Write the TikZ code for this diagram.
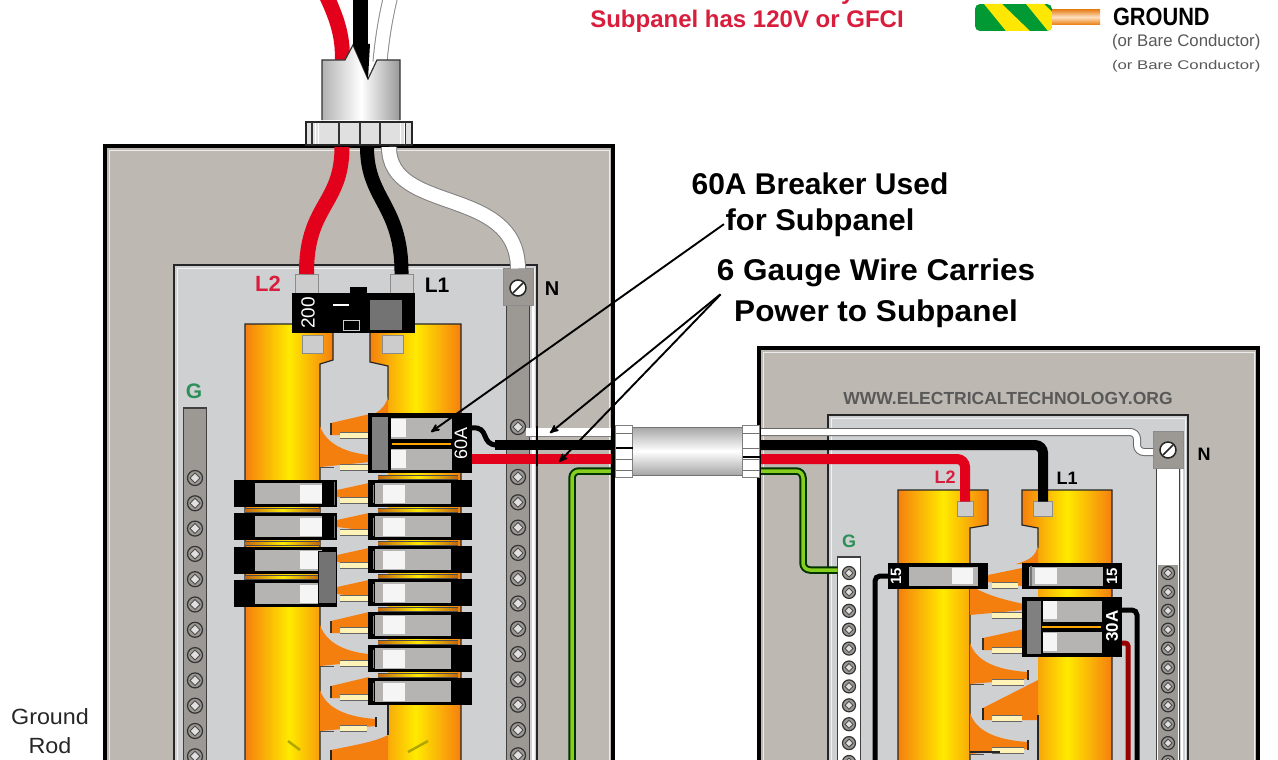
\documentclass[tikz,border=0pt]{standalone}
\usepackage{fontspec}
\setmainfont{Liberation Sans}
\usetikzlibrary{positioning}
\usetikzlibrary{arrows,shapes.geometric,calc}
\definecolor{boxgrey}{HTML}{BDB9B2}
\definecolor{panelgrey}{HTML}{CFD0D2}
\definecolor{barorange}{HTML}{F57F0E}
\definecolor{baryellow}{HTML}{FFEA00}
\definecolor{pincream}{HTML}{FFF3B8}
\definecolor{facegrey}{HTML}{B5B4B2}
\definecolor{bargrey}{HTML}{9C9894}
\definecolor{wirered}{HTML}{E2001A}
\definecolor{labred}{HTML}{D81E3C}
\definecolor{labgreen}{HTML}{2C8F58}
\definecolor{lime}{HTML}{86CF1E}
\tikzset{
    %Define standard arrow tip
    >=stealth',
    % Define pointer style
    pointer/.style={
           ->,
           line width=1.9pt,
           black,
           shorten <=2pt,}
}
\newcommand{\fs}[1]{\fontsize{#1}{#1}\selectfont}
% one breaker on the left / right row of the main panel
\newcommand{\brkl}[2]{
\node[brkbody, minimum width=103pt] (#1) at (285.5,#2) {};
\node[brkface, minimum width=67pt]  (#1f) at (288.5,#2) {};
\node[brktog]  (#1t) at (311,#2) {};
}
\newcommand{\brkr}[2]{
\node[brkbody, minimum width=104pt] (#1) at (420,#2) {};
\node[brkface, minimum width=76pt]  (#1f) at (413,#2) {};
\node[brktog]  (#1t) at (394,#2) {};
}
% bus fingers: tip x, base x, y
\newcommand{\wdg}[3]{
\fill[barorange] (#1,#3-3) -- (#2,#3-10) -- (#2,#3+8) -- (#1,#3+4) -- cycle;
}
\newcommand{\pinbar}[3]{
\draw[pincream, line width=5pt] (#1,#3) -- (#2,#3);
\draw[black!60, line width=.6pt] (#1,#3-3) -- (#2,#3-3) (#1,#3+3) -- (#2,#3+3);
}
% finger coming from the left bar and curving down: bar x, tip x, y
\newcommand{\fin}[3]{
\filldraw[fill=barorange, draw=none] (#1,#3-32) .. controls (#1+6,#3-14) and (#1+26,#3-5) .. (#2,#3-3)
  -- (#2,#3+4) -- (#1,#3+9) -- cycle;
\draw[black!70, line width=1pt] (#1,#3+9) -- (#1+14,#3+9);
}
% finger coming from the right bar with a round tip: tip x, base x, y
\newcommand{\tth}[3]{
\filldraw[fill=barorange, draw=none] (#1,#3-4) -- (#2,#3-13) -- (#2,#3+8) -- (#1,#3+8) -- cycle;
\draw[black!80, line width=1.5pt] (#1,#3+8) -- (#1,#3-4);
}
\newcommand{\strip}[3]{
\shade[left color=barorange!80!black, right color=barorange!80!black, middle color=baryellow] (#1,#3-2) rectangle (#2,#3+2);
\draw[black!70, line width=.6pt] (#1,#3-2) -- (#2,#3-2) (#1,#3+2) -- (#2,#3+2);
}
\begin{document}
\begin{tikzpicture}[x=1pt, y=-1pt, outer sep=0pt]
\tikzstyle{brkbody}=[ rectangle, fill=black, inner sep=0pt, minimum height=27pt]
\tikzstyle{brkface}=[ rectangle, fill=facegrey, inner sep=0pt, minimum height=21pt]
\tikzstyle{brktog}=[ rectangle, fill=white!92!gray, inner sep=0pt,
                  minimum height=18pt, minimum width=22pt]
\tikzstyle{screw}=[ circle, draw=black!80, line width=1.2pt, fill=bargrey, inner sep=0pt, minimum size=15pt]
\tikzstyle{seat}=[ diamond, draw=black!70, line width=.9pt, fill=black!12, inner sep=0pt, minimum size=10pt]
\tikzstyle{lug}=[ rectangle, fill=black!20, draw=black!45, inner sep=0pt]
\tikzstyle{term}=[ rectangle, fill=bargrey, draw=black!45, inner sep=0pt, minimum width=30pt, minimum height=37pt]
\tikzstyle{txtb}=[ inner sep=0pt, font=\bfseries]
\tikzstyle{nut}=[ rectangle, draw=black!50, fill=white, inner sep=0pt, minimum width=17pt, minimum height=52pt]

\useasboundingbox (0,0) rectangle (1278,760);
\clip (0,0) rectangle (1278,760);
\fill[white] (0,0) rectangle (1278,760);

% main panel
\draw[fill=boxgrey, draw=black, line width=4pt] (105,146) rectangle (613,780);
\draw[white!85!gray, line width=1pt] (109,150) rectangle (609,780);
\draw[fill=panelgrey, draw=black!85, line width=1.5pt] (174,265) rectangle (537,780);
\draw[white!90!gray, line width=1pt] (177,268) rectangle (534,780);

% ground and neutral bars
\node[rectangle, fill=bargrey, draw=black!75, line width=1.2pt, minimum width=23pt, minimum height=360pt, inner sep=0pt, anchor=north] (gbar) at (195,408) {};
\node[rectangle, fill=bargrey, draw=black!75, line width=1.2pt, minimum width=23pt, minimum height=460pt, inner sep=0pt, anchor=north] (nbar) at (518,304) {};
\draw[white, line width=2pt] (533,268) -- (533,780);
\foreach \i in {0,...,11} {
  \node[screw] (gs\i) at (195,478+25.3*\i) {};
  \node[seat]  at (gs\i) {};
  \node[screw] (ns\i) at (518,477+25.3*\i) {};
  \node[seat]  at (ns\i) {};
}
\node[screw] (nstop) at (518,427) {};
\node[seat]  at (nstop) {};

% bus bars
\shade[left color=barorange, right color=barorange, middle color=baryellow]
  (245,324) -- (333,324) -- (333,360) -- (320,364) -- (320,780) -- (245,780) -- cycle;
\draw[black!85, line width=1.2pt]
  (320,780) -- (320,364) -- (333,360) -- (333,324) -- (245,324) -- (245,780);
\shade[left color=barorange, right color=barorange, middle color=baryellow]
  (370,324) -- (461,324) -- (461,780) -- (388,780) -- (388,366) -- (370,362) -- cycle;
\draw[black!85, line width=1.2pt]
  (388,400) -- (388,366) -- (370,362) -- (370,324) -- (461,324) -- (461,780);

% fingers of the main panel
\fill[barorange] (388,396) .. controls (386,408) and (376,414) .. (368,416) -- (388,416) -- cycle;
\tth{331}{370}{427}
\pinbar{340}{370}{435}
\fin{320}{370}{458}
\pinbar{340}{370}{467}
\wdg{337}{369}{493}
\pinbar{340}{369}{500}
\wdg{337}{369}{523}
\pinbar{340}{369}{532}
\wdg{337}{369}{558}
\pinbar{340}{369}{565}
\wdg{337}{369}{590}
\pinbar{340}{369}{598}
\tth{331}{369}{625}
\pinbar{340}{369}{630}
\fin{320}{369}{657}
\pinbar{340}{369}{663}
\tth{331}{369}{690}
\pinbar{340}{369}{697}
\fin{320}{376}{722}
\draw[black!85, line width=1.5pt] (376,717) -- (376,727);
\pinbar{340}{367}{728}
\filldraw[fill=barorange, draw=none] (388,735) .. controls (375,742) and (350,746) .. (331,750) -- (331,780) -- (388,780) -- cycle;
\draw[black!85, line width=1.5pt] (388,705) -- (388,735) (331,750) -- (331,770);
\draw[olive!70!yellow, line width=2.5pt] (408,752) -- (428,741) (288,741) -- (300,750);

% breakers on the left
\brkl{bl1}{493.5}
\brkl{bl2}{526.5}
\brkl{bl3}{560}
\brkl{bl4}{593.5}
\strip{245}{320}{510}
\strip{245}{320}{543.5}
\strip{245}{320}{577}
\draw[black!55, line width=1pt] (334,482) -- (334,505) (334,516) -- (334,538);
\filldraw[fill=black!55, draw=black] (318,551) rectangle (336,603);

% breakers on the right
\brkr{br1}{493.5}
\brkr{br2}{526.5}
\brkr{br3}{559.5}
\brkr{br4}{592.5}
\brkr{br5}{625}
\brkr{br6}{658.5}
\brkr{br7}{691.5}
\strip{378}{458}{477}
\strip{378}{458}{510}
\strip{378}{458}{543}
\strip{378}{458}{576}
\strip{378}{458}{609}
\strip{378}{458}{642}
\strip{378}{458}{675}
\foreach \y in {493.5,526.5,559.5,592.5,625,658.5,691.5} {
  \draw[black!45, line width=.8pt] (373,\y-9) -- (373,\y+9);
}

% 60A breaker
\node[brkbody, minimum width=104pt, minimum height=60pt] (b60) at (420,443) {};
\node[brkface, minimum width=61pt, minimum height=21pt] (b60a) at (421,428.5) {};
\node[brkface, minimum width=61pt, minimum height=21pt] (b60b) at (421,459.5) {};
\node[brktog, minimum width=15pt] (t60a) at (398,428) {};
\node[brktog, minimum width=15pt] (t60b) at (398,459) {};
\node[rectangle, fill=black!50, draw=black, inner sep=0pt, minimum width=17pt, minimum height=54pt] (h60) at (380,443) {};
\draw[orange!70!yellow, line width=2pt] (392,443.5) -- (451,443.5);
\node[txtb, white, rotate=90, font=\fs{18}] (t60) at (461,443) {60A};

% main breaker and lugs
\node[lug, minimum width=23pt, minimum height=20pt] (lugl2) at (306.5,284) {};
\node[lug, minimum width=23pt, minimum height=20pt] (lugl1) at (401.5,284) {};
\node[lug, minimum width=21pt, minimum height=18pt] (lugb2) at (312.5,344) {};
\node[lug, minimum width=21pt, minimum height=18pt] (lugb1) at (393,344) {};
\node[rectangle, fill=black, inner sep=0pt, minimum width=123pt, minimum height=40pt] (main) at (353.5,313) {};
\node[rectangle, fill=black, inner sep=0pt, minimum width=17pt, minimum height=7pt] (mainb) at (358.5,290) {};
\node[rectangle, fill=black!55, inner sep=0pt, minimum width=32pt, minimum height=30pt] (mains) at (386,315) {};
\node[rectangle, fill=white, inner sep=0pt, minimum width=16pt, minimum height=2.5pt] (maind) at (341,305) {};
\node[rectangle, draw=black!20, inner sep=0pt, minimum width=16pt, minimum height=10pt] (maino) at (351,325) {};
\node[white, rotate=90, inner sep=0pt, font=\fs{19}] (t200) at (308,313) {200};

% neutral terminal
\node[term] (tn) at (518,287) {};
\node[circle, fill=white, draw=black!85, line width=1.5pt, inner sep=0pt, minimum size=16pt] (tns) at (518,288) {};
\draw[black!85, line width=1.5pt] (513,293) -- (523,283);

% feed wires into main panel
\coordinate (feedr) at (342,147);
\coordinate (feedb) at (367,147);
\coordinate (feedw) at (389,147);
\draw[black!50, line width=16pt] (feedw) .. controls (389,215) and (517,185) .. (tn.north);
\draw[white, line width=14pt] (feedw) .. controls (389,215) and (517,185) .. (tn.north);
\draw[wirered, line width=15pt] (feedr) .. controls (342,205) and (306,205) .. (lugl2.north);
\draw[black, line width=14pt] (feedb) .. controls (367,200) and (402,205) .. (lugl1.north);

% wires from the 60A breaker
\coordinate (endw) at (613,432);
\coordinate (endb) at (613,445);
\coordinate (endr) at (613,459);
\coordinate (endg) at (613,471);
\coordinate (gdown) at (572,780);
\coordinate (nstart) at (526,432);
\draw[black!50, line width=9pt] (nstart) -- (endw);
\draw[white, line width=7.5pt] (nstart) -- (endw);
\draw[black, line width=5pt] (b60.east |- 0,428) .. controls (490,426) and (480,445) .. (497,445);
\draw[black, line width=10pt] (495,445) -- (endb);
\draw[wirered, line width=10pt] (b60.east |- 0,459) -- (endr);
\draw[black!80!green, double=lime, double distance=3.5pt, line width=2pt, rounded corners=7pt] (gdown) |- (endg);
\draw[black, line width=3.5pt] (613,145) -- (613,780);
\draw[black, line width=1.2pt] (537,426) -- (537,466);

% sub panel
\draw[fill=boxgrey, draw=black, line width=4pt] (759,348) rectangle (1258,780);
\draw[white!85!gray, line width=1pt] (763,352) rectangle (1254,780);
\draw[fill=panelgrey, draw=black!85, line width=1.5pt] (828,415) rectangle (1188,780);
\draw[white!90!gray, line width=1pt] (831,418) rectangle (1185,780);
\node[txtb, black!65, font=\bfseries\fs{17.5}] (web) at (1008,398) {WWW.ELECTRICALTECHNOLOGY.ORG};

% bars of the sub panel
\node[rectangle, fill=white, draw=black!75, line width=1.5pt, minimum width=23pt, minimum height=240pt, inner sep=0pt, anchor=north] (gbar2) at (849,557) {};
\node[rectangle, fill=white, draw=black!75, line width=1.5pt, minimum width=23pt, minimum height=320pt, inner sep=0pt, anchor=north] (nbar2) at (1168,465) {};
\fill[bargrey] (1158,565) rectangle (1178,780);
\draw[white, line width=1.5pt] (1182,468) -- (1182,780);
\foreach \i in {0,...,10} {
  \node[screw, minimum size=13pt] (gt\i) at (849,573+18.9*\i) {};
  \node[seat, minimum size=8pt]  at (gt\i) {};
  \node[screw, minimum size=13pt] (nt\i) at (1168,573+18.9*\i) {};
  \node[seat, minimum size=8pt]  at (nt\i) {};
}

% bus bars of the sub panel
\shade[left color=barorange, right color=barorange, middle color=baryellow]
  (898,490) -- (988,490) -- (988,525) -- (970,528) -- (970,780) -- (898,780) -- cycle;
\draw[black!85, line width=1.2pt]
  (970,780) -- (970,528) -- (988,525) -- (988,490) -- (898,490) -- (898,780);
\shade[left color=barorange, right color=barorange, middle color=baryellow]
  (1022,490) -- (1112,490) -- (1112,780) -- (1038,780) -- (1038,528) -- (1022,525) -- cycle;
\draw[black!85, line width=1.2pt]
  (1038,548) -- (1038,528) -- (1022,525) -- (1022,490) -- (1112,490) -- (1112,780);
\node[lug, minimum width=16pt, minimum height=15pt] (lugs2) at (965,509) {};
\node[lug, minimum width=19pt, minimum height=15pt] (lugs1) at (1043,509) {};

% fingers of the sub panel
\fill[barorange] (1038,545) .. controls (1036,556) and (1030,560) .. (1016,564) -- (1038,564) -- cycle;
\wdg{988}{1022}{578}
\pinbar{992}{1018}{585}
\filldraw[fill=barorange, draw=none] (970,585) .. controls (985,595) and (1005,600) .. (1024,604) -- (1024,610) -- (970,615) -- cycle;
\pinbar{992}{1022}{615}
\tth{983}{1024}{642}
\pinbar{992}{1022}{650}
\fin{970}{1028}{675}
\draw[black!85, line width=1.5pt] (1028,670) -- (1028,680);
\pinbar{992}{1024}{682}
\filldraw[fill=barorange, draw=none] (1038,680) -- (983,708) -- (983,720) -- (1038,720) -- cycle;
\draw[black!85, line width=1.5pt] (983,708) -- (983,720);
\pinbar{992}{1022}{718}
\fin{970}{1028}{745}
\draw[black!85, line width=1.5pt] (1028,740) -- (1028,750);
\pinbar{992}{1024}{750}
\draw[black!85, line width=1.2pt] (1038,715) -- (1038,760) (970,752) -- (1000,752);

% breakers of the sub panel
\node[brkbody, minimum width=100pt, minimum height=26pt] (bs1) at (938,576) {};
\node[brkface, minimum width=69pt, minimum height=19pt] (bs1f) at (943,576) {};
\node[brktog, minimum height=16pt, minimum width=21pt] (bs1t) at (962.5,576) {};
\node[white, rotate=90, inner sep=0pt, font=\bfseries\fs{15}] (ts1) at (896,576) {15};
\node[brkbody, minimum width=100pt, minimum height=26pt] (bs2) at (1072,576) {};
\node[brkface, minimum width=74pt, minimum height=19pt] (bs2f) at (1066,576) {};
\node[brktog, minimum height=16pt, minimum width=22pt] (bs2t) at (1046,576) {};
\draw[black!55, line width=2pt] (1031,566) -- (1031,586);
\node[white, rotate=90, inner sep=0pt, font=\bfseries\fs{15}] (ts2) at (1112,576) {15};
\node[brkbody, minimum width=100pt, minimum height=60pt] (b30) at (1072,627) {};
\node[brkface, minimum width=59pt, minimum height=21pt] (b30a) at (1072,611) {};
\node[brkface, minimum width=59pt, minimum height=21pt] (b30b) at (1072,642) {};
\node[brktog, minimum width=14pt] (t30a) at (1050,610) {};
\node[brktog, minimum width=14pt] (t30b) at (1050,642) {};
\node[rectangle, fill=black!50, draw=black, inner sep=0pt, minimum width=15pt, minimum height=54pt] (h30) at (1034,627) {};
\draw[orange!70!yellow, line width=2pt] (1042,626.5) -- (1101,626.5);
\node[white, rotate=90, inner sep=0pt, font=\bfseries\fs{17}] (t30) at (1112,626) {30A};

% neutral terminal of the sub panel
\node[term] (tn2) at (1168,450) {};
\node[circle, fill=white, draw=black!85, line width=1.5pt, inner sep=0pt, minimum size=16pt] (tn2s) at (1168,450) {};
\draw[black!85, line width=1.5pt] (1163,455) -- (1173,445);

% wires in the sub panel
\coordinate (bgnw) at (759,432);
\coordinate (bgnb) at (759,445);
\coordinate (bgnr) at (759,459);
\coordinate (bgng) at (759,471);
\coordinate (dropb) at (875,780);
\coordinate (dropk) at (1137,780);
\coordinate (dropr) at (1128,780);
\draw[black!60, line width=8pt, rounded corners=7pt] (bgnw) -- (1137,432) -- (1137,452) -- (tn2.west |- 0,452);
\draw[white, line width=6pt, rounded corners=7pt] (bgnw) -- (1137,432) -- (1137,452) -- (tn2.west |- 0,452);
\draw[black, line width=10pt, rounded corners=8pt] (bgnb) -| (lugs1.north);
\draw[wirered, line width=10pt, rounded corners=8pt] (bgnr) -| (lugs2.north);
\draw[black!80!green, double=lime, double distance=3.5pt, line width=2pt, rounded corners=7pt] (bgng) -| (803,570) -- (gbar2.west |- 0,570);
\draw[black, line width=5pt, rounded corners=5pt] (dropb) |- (bs1.west);
\draw[black, line width=5pt, rounded corners=5pt] (dropk) |- (b30.east |- 0,610);
\draw[red!60!black, line width=5pt, rounded corners=3pt] (dropr) |- (b30.east |- 0,643);
\draw[black, line width=3.5pt] (759,346) -- (759,780);

% conduit between the panels
\node[rectangle, shade, top color=black!35, bottom color=black!35, middle color=white, inner sep=0pt, minimum width=110pt, minimum height=48pt] (cond) at (687.5,451) {};
\draw[black!55, line width=1pt] (cond.north west) -- (cond.north east) (cond.south west) -- (cond.south east);
\node[nut, left = 0pt of cond]  (nutl) {};
\node[nut, right = 0pt of cond] (nutr) {};
\foreach \y in {433,448,459,470} {
  \draw[black!55, line width=1pt] (nutl.west |- 0,\y) -- (nutl.east |- 0,\y);
  \draw[black!55, line width=1pt] (nutr.west |- 0,\y) -- (nutr.east |- 0,\y);
}
\draw[black, line width=1.5pt] (nutl.west |- 0,448) -- (nutl.east |- 0,448) (nutr.west |- 0,457) -- (nutr.east |- 0,457);

% conduit on top of the main panel
\draw[wirered, line width=15pt] (326,-5) .. controls (338,20) and (344,40) .. (342,65);
\draw[black, line width=15pt] (360,-5) -- (360,70);
\draw[black!45, line width=15pt] (391,-5) .. controls (385,20) and (382,40) .. (380,62);
\draw[white, line width=13pt] (391,-5) .. controls (385,20) and (382,40) .. (380,62);
\shade[left color=black!30, right color=black!40, middle color=white]
  (322,60) -- (345,60) -- (353,45) -- (368,79) -- (377,60) -- (400,60) -- (400,120) -- (322,120) -- cycle;
\draw[black!80, line width=1.2pt]
  (322,120) -- (322,60) -- (345,60) -- (353,45) -- (368,79) -- (377,60) -- (400,60) -- (400,120);
\fill[black] (353,44) -- (368,79) -- (370,44) -- cycle;
\node[rectangle, draw=black!85, line width=1.2pt, fill=black!12, inner sep=0pt, minimum width=106pt, minimum height=23pt, anchor=south] (topnut) at (359,145) {};
\foreach \x in {312,339,360,380,405} {
  \draw[black!80, line width=1.6pt] (\x,122) -- (\x,145);
}
\foreach \x in {315,318,400,404} {
  \draw[white, line width=1.5pt] (\x+.5,123) -- (\x+.5,144);
}

% labels on the panels
\node[txtb, labred, font=\bfseries\fs{22}] (labl2) at (268,284) {L2};
\node[txtb, font=\bfseries\fs{21}] (labl1) at (437,285) {L1};
\node[txtb, font=\bfseries\fs{20}] (labn) at (552,289) {N};
\node[txtb, labgreen, font=\bfseries\fs{21}] (labg) at (194,391) {G};
\node[txtb, labred, font=\bfseries\fs{18}] (labs2) at (945,477) {L2};
\node[txtb, font=\bfseries\fs{18}] (labs1) at (1067,478) {L1};
\node[txtb, font=\bfseries\fs{18}] (labsn) at (1204,454) {N};
\node[txtb, labgreen, font=\bfseries\fs{18}] (labsg) at (849,541) {G};
\node[inner sep=0pt, black!85, font=\fs{22}, xscale=1.06] (labgnd) at (50,717) {Ground};
\node[inner sep=0pt, black!85, font=\fs{22}, xscale=1.06] (labrod) [below = 12pt of labgnd] {Rod};

% callouts
\node[txtb, font=\bfseries\fs{30}] (lab60) at (820,184) {60A Breaker Used};
\node[txtb, font=\bfseries\fs{30}, xscale=1.03] (labsub) [below = 14pt of lab60] {for Subpanel};
\node[txtb, font=\bfseries\fs{30}, xscale=1.05] (lab6g) at (876,273) {6 Gauge Wire Carries};
\node[txtb, font=\bfseries\fs{30}, xscale=1.05] (labpow) [below = 13pt of lab6g] {Power to Subpanel};
\coordinate (fork) at (722,293);
\coordinate (tip60) at (431,432);
\coordinate (tipw) at (550,433);
\coordinate (tipr) at (559,462);
\path[pointer] (labsub.west) edge (tip60);
\path[pointer] (fork) edge (tipw);
\path[pointer] (fork) edge (tipr);

% note on top
\node[txtb, labred, font=\bfseries\fs{24}] (labtop) at (747,-7) {Neutral Needed Only if};
\node[txtb, labred, font=\bfseries\fs{24}] (lab120) at (747,21) {Subpanel has 120V or GFCI};

% legend
\begin{scope}
\clip[rounded corners=5pt] (975,4) rectangle (1052,31);
\fill[green!50!black!80!cyan] (975,4) rectangle (1052,31);
\fill[yellow!90!orange] (984,4) -- (1002,4) -- (1030,31) -- (1006,31) -- cycle;
\fill[yellow!90!orange] (1026,4) -- (1044,4) -- (1052,12) -- (1052,31) -- (1048,31) -- cycle;
\end{scope}
\node[rectangle, shade, top color=orange!60!brown, bottom color=orange!70!brown, middle color=orange!25, inner sep=0pt, minimum width=48pt, minimum height=15pt] (copper) at (1076,17) {};
\node[txtb, font=\bfseries\fs{25}, xscale=.87, anchor=west] (labground) at (1113,17) {GROUND};
\node[inner sep=0pt, black!65, font=\fs{16.8}, anchor=west] (labbare) at (1112,42) {(or Bare Conductor)};
\node[inner sep=0pt, black!65, font=\fs{16.8}, yscale=.75, anchor=west] (labbare2) at (1112,66) {(or Bare Conductor)};
\end{tikzpicture}
\end{document}
